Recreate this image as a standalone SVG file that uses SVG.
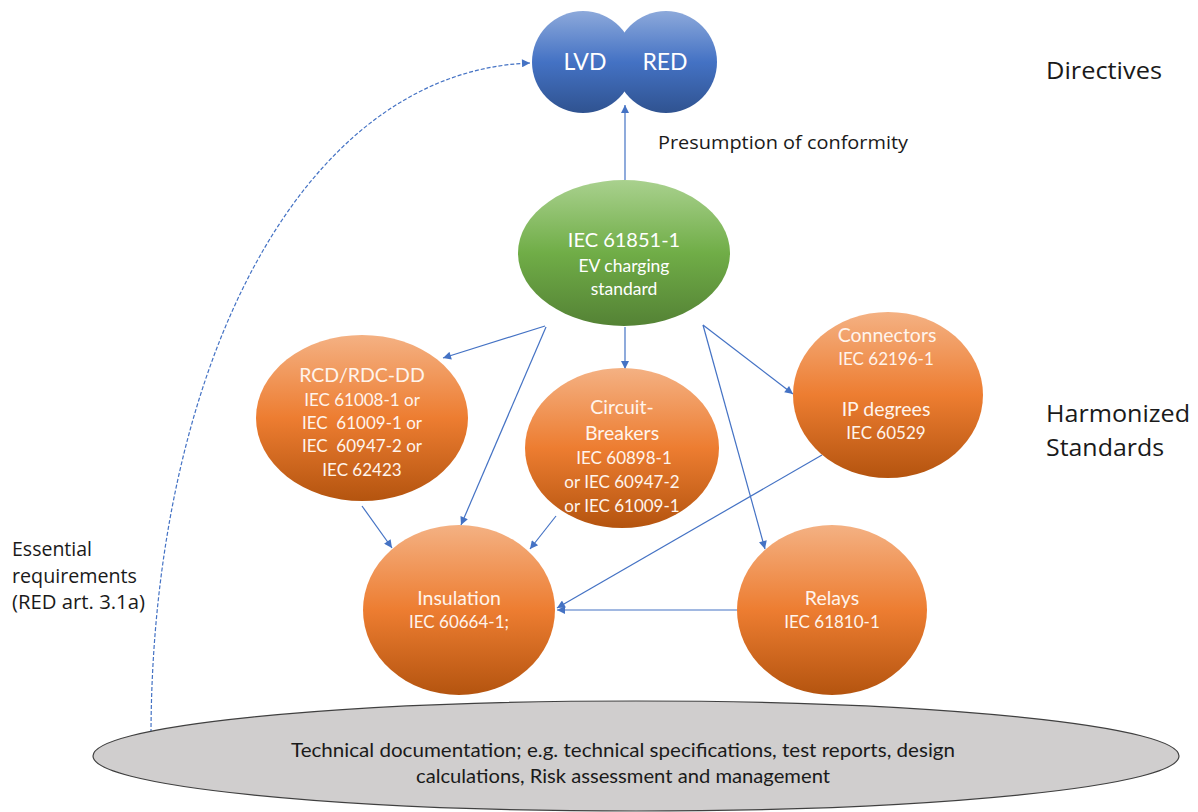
<svg xmlns="http://www.w3.org/2000/svg" width="1198" height="812" viewBox="0 0 1198 812">
<style>
.node-t{font-family:Lato,"Open Sans","Liberation Sans",sans-serif;fill:#fff4ec;text-anchor:middle}
.big{font-size:19.5px}
.small{font-size:17px}
.lbl{font-family:"Open Sans","Liberation Sans",sans-serif;fill:#1a1a1a}
.conn{stroke:#4472c4;stroke-width:1.2;fill:none}
</style>
<defs>
<linearGradient id="gBlue" gradientUnits="userSpaceOnUse" x1="0" y1="10" x2="0" y2="114">
<stop offset="0" stop-color="#8eaadb"/><stop offset="0.5" stop-color="#4472c4"/><stop offset="1" stop-color="#2f528f"/>
</linearGradient>
<linearGradient id="gGreen" x1="0" y1="0" x2="0" y2="1">
<stop offset="0" stop-color="#a9d18e"/><stop offset="0.5" stop-color="#70ad47"/><stop offset="1" stop-color="#548235"/>
</linearGradient>
<linearGradient id="gOrange" x1="0" y1="0" x2="0" y2="1">
<stop offset="0" stop-color="#f4b183"/><stop offset="0.5" stop-color="#ed7d31"/><stop offset="1" stop-color="#b4540f"/>
</linearGradient>
<marker id="arr" viewBox="0 0 10 10" refX="10" refY="5" markerWidth="10" markerHeight="8" markerUnits="userSpaceOnUse" orient="auto">
<path d="M0,0 L10,5 L0,10 z" fill="#4472c4"/>
</marker>
</defs>

<g id="connectors">
<path class="conn" d="M625,180 L625,105" marker-end="url(#arr)"/>
<path class="conn" d="M545,326 L443,358" marker-end="url(#arr)"/>
<path class="conn" d="M546,327 L461,525" marker-end="url(#arr)"/>
<path class="conn" d="M625,327 L625,369" marker-end="url(#arr)"/>
<path class="conn" d="M703,325 L793,394" marker-end="url(#arr)"/>
<path class="conn" d="M703,325 L765,549" marker-end="url(#arr)"/>
<path class="conn" d="M362,506 L392,548" marker-end="url(#arr)"/>
<path class="conn" d="M556,516 L530,549" marker-end="url(#arr)"/>
<path class="conn" d="M822,455 L557,608" marker-end="url(#arr)"/>
<path class="conn" d="M737,610 L557,610" marker-end="url(#arr)"/>
<path class="conn" d="M151,733 C152,380 295,72 530,63" stroke-dasharray="4,2" stroke-width="1" marker-end="url(#arr)"/>
</g>

<g id="directives">
<circle cx="583" cy="62" r="51" fill="url(#gBlue)"/>
<circle cx="666" cy="62" r="51" fill="url(#gBlue)"/>
<text class="node-t" x="585" y="70" style="font-size:23px;fill:#fff">LVD</text>
<text class="node-t" x="665" y="70" style="font-size:23px;fill:#fff">RED</text>
</g>

<g id="iec61851">
<ellipse cx="624" cy="253" rx="106" ry="73" fill="url(#gGreen)"/>
<text class="node-t big" x="624" y="247" style="fill:#fff;font-size:20px">IEC 61851-1</text>
<text class="node-t small" x="624" y="272" style="fill:#fff;font-size:17.5px">EV charging</text>
<text class="node-t small" x="624" y="295" style="fill:#fff;font-size:17.5px">standard</text>
</g>

<g id="rcd">
<ellipse cx="362" cy="418" rx="106" ry="83" fill="url(#gOrange)"/>
<text class="node-t big" x="362" y="382">RCD/RDC-DD</text>
<text class="node-t small" x="362" y="406">IEC 61008-1 or</text>
<text class="node-t small" x="362" y="429" xml:space="preserve">IEC  61009-1 or</text>
<text class="node-t small" x="362" y="452" xml:space="preserve">IEC  60947-2 or</text>
<text class="node-t small" x="362" y="476">IEC 62423</text>
</g>

<g id="breakers">
<ellipse cx="622" cy="448" rx="97" ry="80" fill="url(#gOrange)"/>
<text class="node-t big" x="622" y="414">Circuit-</text>
<text class="node-t big" x="622" y="440">Breakers</text>
<text class="node-t small" x="624" y="464">IEC 60898-1</text>
<text class="node-t small" x="622" y="488">or IEC 60947-2</text>
<text class="node-t small" x="622" y="512">or IEC 61009-1</text>
</g>

<g id="connectors-node">
<ellipse cx="888" cy="395" rx="95" ry="83" fill="url(#gOrange)"/>
<text class="node-t big" x="887" y="342">Connectors</text>
<text class="node-t small" x="886" y="365">IEC 62196-1</text>
<text class="node-t big" x="886" y="416">IP degrees</text>
<text class="node-t small" x="886" y="439">IEC 60529</text>
</g>

<g id="insulation">
<ellipse cx="459" cy="610" rx="96" ry="85" fill="url(#gOrange)"/>
<text class="node-t big" x="459" y="605">Insulation</text>
<text class="node-t small" x="459" y="628">IEC 60664-1;</text>
</g>

<g id="relays">
<ellipse cx="832" cy="610" rx="95" ry="85" fill="url(#gOrange)"/>
<text class="node-t big" x="832" y="605">Relays</text>
<text class="node-t small" x="832" y="628">IEC 61810-1</text>
</g>

<g id="techdoc">
<ellipse cx="636" cy="756" rx="543" ry="55" fill="#d0cece" stroke="#404040" stroke-width="1.2"/>
<text class="lbl" x="623" y="757" text-anchor="middle" font-size="19" textLength="664" lengthAdjust="spacingAndGlyphs" style="font-family:Lato,'Liberation Sans',sans-serif">Technical documentation; e.g. technical specifications, test reports, design</text>
<text class="lbl" x="623" y="783" text-anchor="middle" font-size="19" textLength="414" lengthAdjust="spacingAndGlyphs" style="font-family:Lato,'Liberation Sans',sans-serif">calculations, Risk assessment and management</text>
</g>

<g id="labels">
<text class="lbl" x="1046" y="79" font-size="24" textLength="116" lengthAdjust="spacingAndGlyphs">Directives</text>
<text class="lbl" x="1046" y="422" font-size="24" textLength="144" lengthAdjust="spacingAndGlyphs">Harmonized</text>
<text class="lbl" x="1046" y="456" font-size="24" textLength="118" lengthAdjust="spacingAndGlyphs">Standards</text>
<text class="lbl" x="658" y="149" font-size="19" textLength="250" lengthAdjust="spacingAndGlyphs">Presumption of conformity</text>
<text class="lbl" x="12" y="556" font-size="20" textLength="80" lengthAdjust="spacingAndGlyphs">Essential</text>
<text class="lbl" x="12" y="583" font-size="20" textLength="125" lengthAdjust="spacingAndGlyphs">requirements</text>
<text class="lbl" x="12" y="609" font-size="20" textLength="133" lengthAdjust="spacingAndGlyphs">(RED art. 3.1a)</text>
</g>
</svg>
